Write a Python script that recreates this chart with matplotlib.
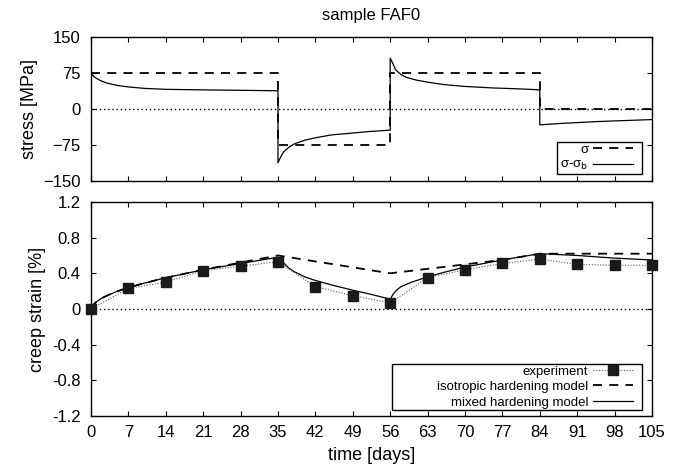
"""Stress history and creep strain for sample FAF0 (gnuplot-like style)."""

import matplotlib
matplotlib.use("Agg")
import matplotlib.pyplot as plt
from matplotlib.lines import Line2D
from matplotlib.patches import Rectangle

plt.rcParams.update({
    "font.family": ["Liberation Sans", "DejaVu Sans"],
    "font.size": 12,
    "xtick.direction": "in",
    "ytick.direction": "in",
    "xtick.top": True,
    "ytick.right": True,
    "xtick.major.size": 3.8,
    "ytick.major.size": 3.8,
    "xtick.major.pad": 6.5,
    "ytick.major.pad": 7.5,
    "axes.linewidth": 1.0,
})

# applied stress sigma [MPa]
sigma_t = [0, 35, 35, 56, 56, 84, 84, 105]
sigma_v = [75, 75, -75, -75, 75, 75, 0, 0]

# effective stress sigma - sigma_b [MPa]
eff_t = [0, 0.5, 1, 2, 3, 5, 7, 10, 14, 20, 28, 35,
         35, 35.5, 36, 37, 38, 40, 42, 45, 49, 52, 56,
         56, 56.5, 57, 58, 59, 61, 63, 66, 70, 75, 80, 84,
         84, 88, 95, 105]
eff_v = [75, 68, 64, 58, 54, 49, 46, 43, 41, 40, 39, 38,
         -112, -100, -90, -80, -73, -65, -60, -54, -50, -47, -44,
         106, 95, 82, 72, 66, 60, 56, 51, 47, 44, 42, 40,
         -33, -30, -26, -22]

# creep strain [%]
days = [0, 7, 14, 21, 28, 35, 42, 49, 56, 63, 70, 77, 84, 91, 98, 105]
experiment = [0.0, 0.23, 0.30, 0.43, 0.48, 0.53, 0.25, 0.15, 0.07,
              0.35, 0.44, 0.51, 0.56, 0.50, 0.49, 0.49]

iso_t = [0, 0.5, 1, 2, 3, 5, 7, 10, 14, 21, 28, 35, 56, 63, 70, 77, 84, 105]
iso_v = [0.0, 0.05, 0.08, 0.12, 0.15, 0.20, 0.24, 0.29, 0.35, 0.44, 0.52, 0.60,
         0.40, 0.45, 0.50, 0.55, 0.62, 0.62]

mix_t = [0, 0.5, 1, 2, 3, 5, 7, 10, 14, 21, 28, 35,
         36, 37, 38, 40, 42, 45, 49, 52, 56,
         56.5, 57, 58, 60, 63, 66, 70, 77, 84, 91, 98, 105]
mix_v = [0.0, 0.05, 0.08, 0.12, 0.15, 0.20, 0.24, 0.29, 0.35, 0.44, 0.51, 0.58,
         0.52, 0.46, 0.42, 0.36, 0.32, 0.27, 0.21, 0.17, 0.11,
         0.16, 0.20, 0.25, 0.30, 0.36, 0.41, 0.47, 0.55, 0.62, 0.60, 0.57, 0.55]

xticks = list(range(0, 106, 7))

DASH = (0, (5, 4))
DOT = (0, (1, 2))
LEG_KW = dict(loc="center right", markerfirst=False, frameon=False,
              fontsize=9.5, handlelength=3.0, handletextpad=0.4,
              borderaxespad=0, labelspacing=0.25, borderpad=0.4)


def legend_box(ax, x0, y0, x1, y1):
    """gnuplot-style key frame, drawn in axes fraction."""
    ax.add_patch(Rectangle((x0, y0), x1 - x0, y1 - y0, transform=ax.transAxes,
                           facecolor="white", edgecolor="black",
                           linewidth=1.0, zorder=6))


fig = plt.figure(figsize=(6.82, 4.71), dpi=100)
ax1 = fig.add_axes([0.1334, 0.6157, 0.8226, 0.3057])
ax2 = fig.add_axes([0.1334, 0.1168, 0.8226, 0.4544])

# top panel: stress
ax1.axhline(0, color="black", linestyle=DOT, linewidth=1.0)
ax1.plot(sigma_t, sigma_v, color="black", linestyle=DASH, linewidth=1.3)
ax1.plot(eff_t, eff_v, color="black", linestyle="-", linewidth=0.9)
ax1.set_xlim(0, 105)
ax1.set_ylim(-150, 150)
ax1.set_yticks([-150, -75, 0, 75, 150])
ax1.set_xticks(xticks)
ax1.set_xticklabels([])
ax1.set_ylabel("stress [MPa]", fontsize=13)
ax1.set_title("sample FAF0", fontsize=12, pad=12)

legend_box(ax1, 0.8307, 0.0486, 0.982, 0.271)
h1 = [Line2D([], [], color="black", linestyle=DASH, linewidth=1.3),
      Line2D([], [], color="black", linestyle="-", linewidth=0.9)]
leg1 = ax1.legend(h1, ["σ", "σ-σ$_\\mathrm{b}$"],
                  bbox_to_anchor=(0.9756, 0.16), **LEG_KW)
leg1.set_zorder(7)

# bottom panel: creep strain
ax2.axhline(0, color="black", linestyle=DOT, linewidth=1.0)
ax2.plot(iso_t, iso_v, color="black", linestyle=DASH, linewidth=1.3)
ax2.plot(mix_t, mix_v, color="black", linestyle="-", linewidth=0.9)
ax2.plot(days, experiment, color="#555555", linestyle=(0, (1, 1.5)),
         linewidth=0.8, marker="s", markersize=7, markerfacecolor="#1a1a1a",
         markeredgecolor="#1a1a1a", clip_on=False, zorder=5)
ax2.set_xlim(0, 105)
ax2.set_ylim(-1.2, 1.2)
ax2.set_yticks([-1.2, -0.8, -0.4, 0, 0.4, 0.8, 1.2])
ax2.set_yticklabels(["-1.2", "-0.8", "-0.4", "0", "0.4", "0.8", "1.2"])
ax2.set_xticks(xticks)
ax2.set_xlabel("time [days]", fontsize=13, labelpad=5)
ax2.set_ylabel("creep strain [%]", fontsize=13)

legend_box(ax2, 0.5365, 0.028, 0.982, 0.243)
h2 = [Line2D([], [], color="#555555", linestyle=(0, (1, 1.5)), linewidth=0.8,
             marker="s", markersize=7, markerfacecolor="#1a1a1a",
             markeredgecolor="#1a1a1a"),
      Line2D([], [], color="black", linestyle=DASH, linewidth=1.3),
      Line2D([], [], color="black", linestyle="-", linewidth=0.9)]
leg2 = ax2.legend(h2, ["experiment", "isotropic hardening model",
                       "mixed hardening model"],
                  bbox_to_anchor=(0.9756, 0.1355), **LEG_KW)
leg2.set_zorder(7)

fig.savefig("out.png", dpi=100)
